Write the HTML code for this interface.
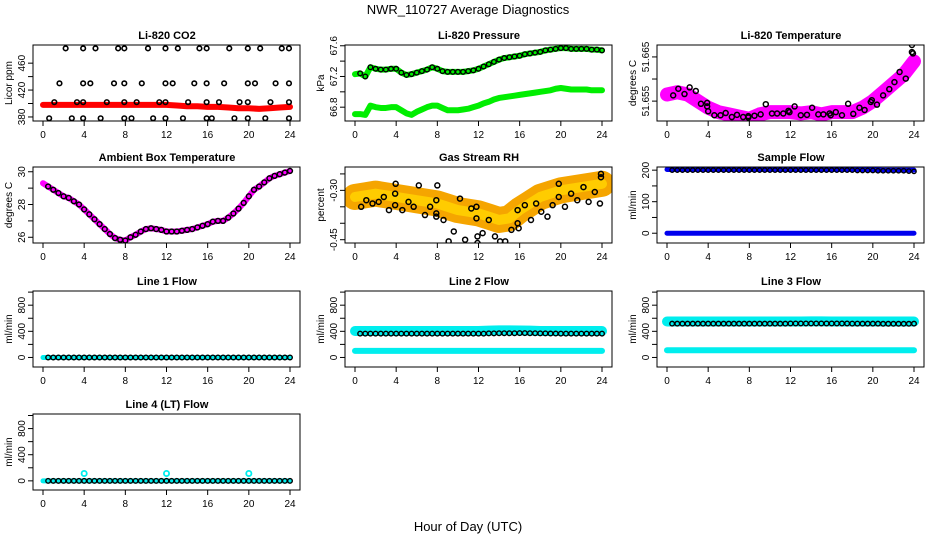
<!DOCTYPE html>
<html><head><meta charset="utf-8"><style>
html,body{margin:0;padding:0;background:#fff}
svg{display:block;font-family:"Liberation Sans",sans-serif}
</style></head><body>
<svg id="c" width="936" height="540" viewBox="0 0 936 540">
<text x="468" y="14" text-anchor="middle" font-size="13">NWR_110727  Average Diagnostics</text>
<text x="468" y="531" text-anchor="middle" font-size="13">Hour of Day (UTC)</text>
</svg>
<script>
// ---- data ----
const halfHours = [0,0.5,1,1.5,2,2.5,3,3.5,4,4.5,5,5.5,6,6.5,7,7.5,8,8.5,9,9.5,10,10.5,11,11.5,12,12.5,13,13.5,14,14.5,15,15.5,16,16.5,17,17.5,18,18.5,19,19.5,20,20.5,21,21.5,22,22.5,23,23.5,24];
const hours = [0,1,2,3,4,5,6,7,8,9,10,11,12,13,14,15,16,17,18,19,20,21,22,23,24];
const xTicks = [0,4,8,12,16,20,24];

const co2Red = [398,398,398,398,398,398,398,398,398,398,398,398,398,397,396,396,395,395,394,393,393,392,393,394,395];
const co2CircX = [2.2,3.9,5.1,7.3,7.9,10.2,11.9,13.1,15.2,15.9,18.1,19.9,21.1,23.2,23.9,1.6,3.9,4.6,6.9,7.9,9.6,11.9,12.6,14.7,15.9,17.6,19.9,20.6,22.6,23.9,1.1,3.3,3.9,6.2,7.9,9.1,11.3,11.9,14.1,15.9,17.1,19.1,19.9,22.1,23.9,0.6,2.8,3.9,5.6,7.9,8.6,10.7,11.9,13.6,15.9,16.4,18.6,19.9,21.6,23.9];
const co2CircY = [482,482,482,482,482,482,482,482,482,482,482,482,482,482,482,430,430,430,430,430,430,430,430,430,430,430,430,430,430,430,402,402,402,402,402,402,402,402,402,402,402,402,402,402,402,378,378,378,378,378,378,378,378,378,378,378,378,378,378,378];

const pressUpper = [67.23,67.24,67.20,67.32,67.30,67.29,67.29,67.30,67.30,67.25,67.22,67.23,67.25,67.27,67.29,67.32,67.30,67.27,67.26,67.26,67.26,67.26,67.27,67.28,67.30,67.33,67.36,67.39,67.42,67.44,67.45,67.46,67.47,67.49,67.50,67.51,67.52,67.54,67.55,67.56,67.57,67.57,67.56,67.56,67.56,67.56,67.55,67.55,67.54];
const pressLower = [66.71,66.71,66.70,66.82,66.80,66.79,66.79,66.80,66.80,66.76,66.72,66.70,66.74,66.77,66.80,66.82,66.82,66.79,66.76,66.76,66.76,66.77,66.78,66.80,66.82,66.85,66.87,66.90,66.92,66.93,66.94,66.95,66.96,66.97,66.98,66.99,67.00,67.01,67.02,67.04,67.05,67.04,67.03,67.03,67.03,67.03,67.02,67.02,67.02];

const tempCenter = [51.6565,51.657,51.6565,51.655,51.6535,51.6525,51.652,51.6515,51.651,51.652,51.6525,51.6525,51.6525,51.6522,51.6525,51.652,51.6525,51.6525,51.6525,51.6535,51.655,51.657,51.659,51.661,51.664];
const tempCircX = [0.6,1.1,1.7,2.2,2.8,3.3,3.9,3.9,4.0,4.6,5.2,5.7,6.3,6.8,7.4,7.9,7.9,8.5,9.1,9.6,10.2,10.7,11.3,11.8,11.9,12.4,13.0,13.6,14.1,14.7,15.2,15.8,15.9,16.4,17.0,17.6,18.1,18.7,19.2,19.8,19.9,20.4,21.0,21.6,22.1,22.6,23.2,23.8,23.8,23.9];
const tempCircY = [51.6563,51.6578,51.6566,51.6581,51.6573,51.6544,51.6546,51.6538,51.6527,51.6518,51.6518,51.6523,51.6514,51.6519,51.6514,51.6513,51.6516,51.6517,51.6520,51.6543,51.6522,51.6522,51.6522,51.6528,51.6525,51.6538,51.6518,51.6519,51.6535,51.6520,51.6520,51.6522,51.6518,51.6525,51.6518,51.6544,51.6521,51.6535,51.6530,51.6548,51.6552,51.6542,51.6563,51.6577,51.6593,51.6616,51.6601,51.6677,51.6661,51.6658];

const ambient = [29.3,29.1,28.9,28.7,28.5,28.4,28.2,28.0,27.7,27.4,27.1,26.8,26.5,26.2,25.95,25.85,25.8,26.0,26.15,26.35,26.5,26.55,26.5,26.45,26.35,26.35,26.35,26.4,26.45,26.5,26.6,26.7,26.8,26.95,27.0,27.0,27.2,27.45,27.75,28.1,28.5,28.9,29.1,29.35,29.6,29.75,29.85,29.95,30.05];

const rhCenter = [-0.32,-0.315,-0.31,-0.315,-0.32,-0.325,-0.33,-0.335,-0.34,-0.35,-0.36,-0.365,-0.37,-0.38,-0.39,-0.385,-0.36,-0.34,-0.32,-0.31,-0.30,-0.295,-0.29,-0.285,-0.28];
const rhCircX = [0.6,1.1,1.7,2.3,2.8,3.3,3.9,3.9,3.95,4.6,5.2,5.7,6.2,6.8,7.3,7.9,7.9,7.9,8.0,8.6,9.1,9.6,10.2,10.7,11.3,11.8,11.8,11.9,11.9,12.4,13.0,13.6,14.1,14.6,15.2,15.8,15.8,15.9,16.5,17.1,17.6,18.1,18.7,19.2,19.8,19.8,20.4,21.0,21.6,22.2,22.7,23.3,23.8,23.9,23.9];
const rhCircY = [-0.35,-0.33,-0.34,-0.335,-0.32,-0.36,-0.31,-0.345,-0.28,-0.36,-0.335,-0.35,-0.285,-0.375,-0.35,-0.33,-0.37,-0.38,-0.285,-0.39,-0.455,-0.425,-0.325,-0.45,-0.355,-0.35,-0.385,-0.44,-0.46,-0.43,-0.39,-0.44,-0.455,-0.455,-0.42,-0.36,-0.40,-0.415,-0.345,-0.39,-0.34,-0.365,-0.38,-0.345,-0.28,-0.32,-0.35,-0.31,-0.33,-0.29,-0.335,-0.305,-0.34,-0.25,-0.26];

const sampleHigh = [202,202,202,202,202,202,202,202,202,202,202,202,202,202,202,202,202,202,202,202,201,200,200,200,200];
const sampleLow = [0,0,0,0,0,0,0,0,0,0,0,0,0,0,0,0,0,0,0,0,0,0,0,0,0];
const sampleBlack = [200,200,200,200,200,200,200,200,200,200,200,200,200,200,200,200,200,200,200,200,200,200,200,200,200,200,200,200,200,200,200,200,200,200,200,200,200,199,199,199,199,198,198,198,198,198,198,197,196];

const line1Cyan = [0,0,0,0,0,0,0,0,0,0,0,0,0,0,0,0,0,0,0,0,0,0,0,0,0];
const line1Black = [0,0,0,0,0,0,0,0,0,0,0,0,0,0,0,0,0,0,0,0,0,0,0,0,0];
const line2CyanHigh = [405,405,405,405,405,405,405,405,405,405,405,405,405,410,415,415,412,410,405,405,405,405,405,405,405];
const line2CyanLow = [100,100,100,100,100,100,100,100,100,100,100,100,100,100,100,100,100,100,100,100,100,100,100,100,100];
const line2Black = [365,365,365,365,365,365,365,365,365,365,365,365,365,368,370,370,372,370,368,366,365,365,365,365,365];
const line3CyanHigh = [550,550,550,550,550,550,550,550,550,550,550,550,550,550,552,552,550,550,550,550,550,550,550,550,550];
const line3CyanLow = [111,111,111,111,111,111,111,111,111,111,111,111,111,111,111,111,111,111,111,111,111,111,111,111,111];
const line3Black = [517,517,517,517,517,517,517,517,517,517,517,517,520,520,520,520,520,520,518,517,517,515,515,515,517];
const line4Cyan = [0,0,0,0,0,0,0,0,0,0,0,0,0,0,0,0,0,0,0,0,0,0,0,0,0];
const line4Black = [0,0,0,0,0,0,0,0,0,0,0,0,0,0,0,0,0,0,0,0,0,0,0,0,0];
const line4OutX = [4,12,20];
const line4OutY = [113,113,113];

// ---- drawing ----
const NS = "http://www.w3.org/2000/svg";
const svg = document.getElementById('c');
function mk(tag, attrs, parent){
  const e = document.createElementNS(NS, tag);
  for (const k in attrs) e.setAttribute(k, attrs[k]);
  (parent||svg).appendChild(e);
  return e;
}
const BOX_L = 33, BOX_R = 300, BOX_H = 76;
const TOPS = [45,167,291,414];
function makePanel(col, row, name, title, ylab, ymin, ymax, ticks, tickLabels){
  const ox = col*312, top = TOPS[row], bot = top + BOX_H;
  const g = mk('g', {});
  
  
  const P = {
    g: g,
    x: h => ox + 43 + h*(247/24),
    y: v => top + (ymax - v)/(ymax - ymin)*BOX_H
  };
  const clip = mk('clipPath', {id:'clip-'+name}, g);
  mk('rect', {x:ox+BOX_L, y:top, width:BOX_R-BOX_L, height:BOX_H}, clip);
  P.plot = mk('g', {'clip-path':'url(#clip-'+name+')'}, g);
  
  
  const t = mk('text', {x:ox+167, y:top-6, 'text-anchor':'middle', 'font-size':'11', 'font-weight':'bold'}, g);
  t.textContent = title;
  
  
  const yl = mk('text', {x:0, y:0, transform:'translate('+(ox+12)+','+(top+BOX_H/2)+') rotate(-90)', 'text-anchor':'middle', 'font-size':'10'}, g);
  yl.textContent = ylab;
  
  
  const xa = mk('g', {stroke:'#000','stroke-width':1}, g);
  
  
  xTicks.forEach(h => {
    mk('line', {x1:P.x(h), x2:P.x(h), y1:bot, y2:bot+5}, xa);
    const tl = mk('text', {x:P.x(h), y:bot+17, 'text-anchor':'middle', 'font-size':'10', stroke:'none'}, xa);
    tl.textContent = String(h);
    
    
  });
  const ya = mk('g', {stroke:'#000','stroke-width':1}, g);
  
  
  ticks.forEach((v,i) => {
    const yy = P.y(v);
    if (yy < top-1 || yy > bot+1) return;
    mk('line', {x1:ox+BOX_L-5, x2:ox+BOX_L, y1:yy, y2:yy}, ya);
    if (tickLabels[i]) {
      const tl = mk('text', {x:0, y:0, transform:'translate('+(ox+25)+','+yy+') rotate(-90)', 'text-anchor':'middle', 'font-size':'10', stroke:'none'}, ya);
      tl.textContent = tickLabels[i];
      
      
    }
  });
  P.finish = function(){
    const b = mk('rect', {x:ox+BOX_L, y:top, width:BOX_R-BOX_L, height:BOX_H, fill:'none', stroke:'#000', 'stroke-width':1}, g);
    
    
  };
  return P;
}
function band(P, xs, ys, color, width, name){
  const pts = xs.map((h,i) => P.x(h)+','+P.y(ys[i])).join(' ');
  const e = mk('polyline', {points:pts, fill:'none', stroke:color, 'stroke-width':width, 'stroke-linejoin':'round', 'stroke-linecap':'round'}, P.plot);
  
  
}
function circles(P, xs, ys, color, r, sw, name){
  const g = mk('g', {fill:'none', stroke:color, 'stroke-width':sw}, P.plot);
  
  
  xs.forEach((h,i) => {
    const c = mk('circle', {cx:P.x(h), cy:P.y(ys[i]), r:r}, g);
    
    
  });
}

// Li-820 CO2
let P = makePanel(0,0,'co2-panel','Li-820 CO2','Licor ppm',374,487,[380,400,420,440,460],['380','','420','','460']);
band(P, hours, co2Red, '#ff0000', 6, 'co2-red-band');
circles(P, co2CircX, co2CircY, '#000', 2.3, 1.6, 'co2-black-points');
P.finish();

// Pressure
P = makePanel(1,0,'pressure-panel','Li-820 Pressure','kPa',66.62,67.61,[66.8,67.0,67.2,67.4,67.6],['66.8','','67.2','','67.6']);
band(P, halfHours, pressUpper, '#00ee00', 6, 'pressure-upper-band');
band(P, halfHours, pressLower, '#00ee00', 6, 'pressure-lower-band');
circles(P, halfHours.slice(1), pressUpper.slice(1), '#000', 2.3, 1.4, 'pressure-black-points');
P.finish();

// Li-820 Temperature
P = makePanel(2,0,'li820-temp-panel','Li-820 Temperature','degrees C',51.6505,51.6677,[51.655,51.660,51.665],['51.655','','51.665']);
band(P, hours, tempCenter, '#ff00ff', 14, 'temp-magenta-cloud');
circles(P, tempCircX, tempCircY, '#000', 2.5, 1.5, 'temp-black-points');
P.finish();

// Ambient
P = makePanel(0,1,'ambient-panel','Ambient Box Temperature','degrees C',25.65,30.29,[26,27,28,29,30],['26','','28','','30']);
band(P, halfHours, ambient, '#ff00ff', 6, 'ambient-magenta-band');
circles(P, halfHours.slice(1), ambient.slice(1), '#000', 2.4, 1.5, 'ambient-black-points');
P.finish();

// Gas Stream RH
P = makePanel(1,1,'rh-panel','Gas Stream RH','percent',-0.46,-0.229,[-0.45,-0.40,-0.35,-0.30,-0.25],['-0.45','','','-0.30','']);
band(P, hours, rhCenter, '#f5a500', 26, 'rh-orange-cloud');
band(P, hours, rhCenter, '#ffcc00', 10, 'rh-yellow-core');
circles(P, rhCircX, rhCircY, '#000', 2.5, 1.5, 'rh-black-points');
P.finish();

// Sample Flow
P = makePanel(2,1,'sample-flow-panel','Sample Flow','ml/min',-31,210,[0,50,100,150,200],['0','','100','','200']);
band(P, hours, sampleHigh, '#0000ee', 5, 'sample-high-band');
band(P, hours, sampleLow, '#0000ee', 5, 'sample-low-band');
circles(P, halfHours.slice(1), sampleBlack.slice(1), '#000', 2.2, 1.3, 'sample-black-points');
P.finish();

// Line 1
P = makePanel(0,2,'line1-panel','Line 1 Flow','ml/min',-146,1017,[0,200,400,600,800,1000],['0','','400','','800','']);
band(P, hours, line1Cyan, '#00eeee', 5, 'line1-cyan-band');
circles(P, hours.slice(1), line1Black.slice(1), '#000', 2.3, 1.4, 'line1-black-points');
circles(P, halfHours.slice(1).filter((h,i)=>i%2===0), line1Black.slice(0,24), '#000', 2.3, 1.4, 'line1-black-points-mid');
P.finish();

// Line 2
P = makePanel(1,2,'line2-panel','Line 2 Flow','ml/min',-146,1017,[0,200,400,600,800,1000],['0','','400','','800','']);
band(P, hours, line2CyanHigh, '#00eeee', 10, 'line2-cyan-high-band');
band(P, hours, line2CyanLow, '#00eeee', 6, 'line2-cyan-low-band');
circles(P, hours.slice(1), line2Black.slice(1), '#000', 2.3, 1.4, 'line2-black-points');
circles(P, halfHours.slice(1).filter((h,i)=>i%2===0), line2Black.slice(0,24), '#000', 2.3, 1.4, 'line2-black-points-mid');
P.finish();

// Line 3
P = makePanel(2,2,'line3-panel','Line 3 Flow','ml/min',-146,1017,[0,200,400,600,800,1000],['0','','400','','800','']);
band(P, hours, line3CyanHigh, '#00eeee', 10, 'line3-cyan-high-band');
band(P, hours, line3CyanLow, '#00eeee', 6, 'line3-cyan-low-band');
circles(P, hours.slice(1), line3Black.slice(1), '#000', 2.3, 1.4, 'line3-black-points');
circles(P, halfHours.slice(1).filter((h,i)=>i%2===0), line3Black.slice(0,24), '#000', 2.3, 1.4, 'line3-black-points-mid');
P.finish();

// Line 4
P = makePanel(0,3,'line4-panel','Line 4 (LT) Flow','ml/min',-140,1023,[0,200,400,600,800,1000],['0','','400','','800','']);
band(P, hours, line4Cyan, '#00eeee', 5, 'line4-cyan-band');
circles(P, line4OutX, line4OutY, '#00eeee', 2.6, 1.8, 'line4-cyan-outliers');
circles(P, hours.slice(1), line4Black.slice(1), '#000', 2.3, 1.4, 'line4-black-points');
circles(P, halfHours.slice(1).filter((h,i)=>i%2===0), line4Black.slice(0,24), '#000', 2.3, 1.4, 'line4-black-points-mid');
P.finish();
</script>
</body></html>
